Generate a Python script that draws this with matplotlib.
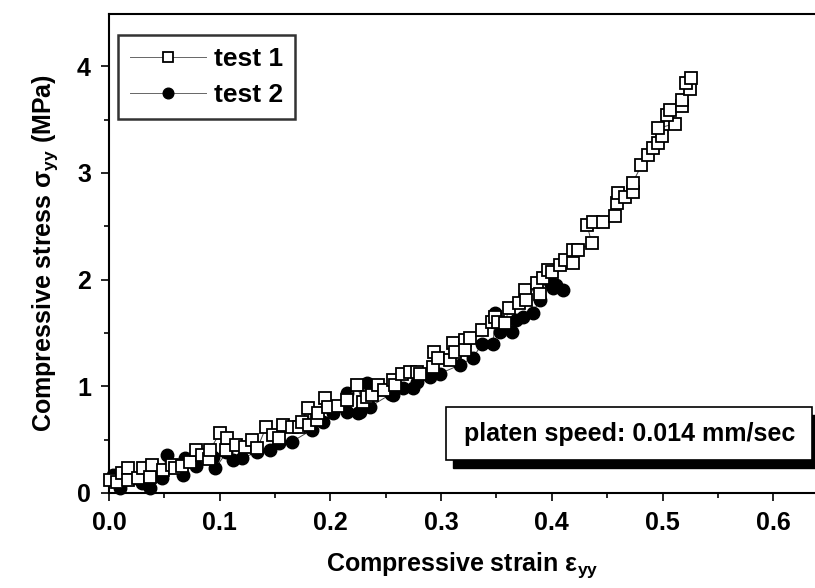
import matplotlib
matplotlib.use("Agg")
import matplotlib.pyplot as plt
from matplotlib.patches import Rectangle
from matplotlib.ticker import MultipleLocator, FormatStrFormatter

plt.rcParams['font.family'] = ['Liberation Sans', 'DejaVu Sans']
plt.rcParams['font.weight'] = 'bold'
plt.rcParams['axes.labelweight'] = 'bold'
plt.rcParams['mathtext.fontset'] = 'custom'
plt.rcParams['mathtext.rm'] = 'Liberation Sans:bold'
plt.rcParams['mathtext.it'] = 'Liberation Sans:bold'
plt.rcParams['mathtext.bf'] = 'Liberation Sans:bold'

# test 1 (open squares): strain, stress (MPa)
strain1 = [0.001, 0.007, 0.012, 0.017, 0.017, 0.026, 0.031, 0.037, 0.039, 0.049,
           0.057, 0.060, 0.066, 0.073, 0.079, 0.084, 0.090, 0.091, 0.100, 0.106,
           0.107, 0.115, 0.123, 0.129, 0.134, 0.142, 0.148, 0.154, 0.157, 0.165,
           0.172, 0.174, 0.180, 0.181, 0.188, 0.189, 0.195, 0.198, 0.207, 0.215,
           0.224, 0.229, 0.233, 0.238, 0.243, 0.248, 0.257, 0.258, 0.265, 0.272,
           0.278, 0.281, 0.293, 0.294, 0.297, 0.308, 0.311, 0.313, 0.322, 0.322,
           0.326, 0.337, 0.346, 0.349, 0.351, 0.358, 0.361, 0.370, 0.376, 0.377,
           0.387, 0.389, 0.392, 0.397, 0.400, 0.407, 0.412, 0.419, 0.419, 0.424,
           0.436, 0.432, 0.437, 0.446, 0.457, 0.459, 0.460, 0.466, 0.473, 0.473,
           0.481, 0.487, 0.491, 0.496, 0.500, 0.496, 0.511, 0.504, 0.507, 0.518,
           0.518, 0.525, 0.521, 0.526]
stress1 = [0.12, 0.10, 0.19, 0.23, 0.12, 0.14, 0.23, 0.15, 0.26, 0.22,
           0.26, 0.23, 0.25, 0.29, 0.40, 0.36, 0.32, 0.40, 0.56, 0.40,
           0.52, 0.45, 0.43, 0.50, 0.42, 0.62, 0.54, 0.52, 0.64, 0.62,
           0.62, 0.67, 0.80, 0.64, 0.68, 0.75, 0.89, 0.81, 0.82, 0.87,
           1.01, 0.85, 0.90, 0.92, 1.01, 0.97, 1.06, 1.01, 1.12, 1.13,
           1.13, 1.12, 1.18, 1.32, 1.27, 1.25, 1.41, 1.32, 1.43, 1.34,
           1.45, 1.53, 1.60, 1.65, 1.60, 1.59, 1.73, 1.78, 1.90, 1.81,
           1.97, 1.87, 2.02, 2.09, 2.07, 2.14, 2.18, 2.16, 2.28, 2.28,
           2.34, 2.51, 2.54, 2.54, 2.60, 2.72, 2.81, 2.77, 2.82, 2.91,
           3.07, 3.17, 3.23, 3.28, 3.35, 3.42, 3.46, 3.54, 3.59, 3.63,
           3.68, 3.79, 3.84, 3.89]

# test 2 (filled circles)
strain2 = [0.004, 0.010, 0.030, 0.037, 0.048, 0.052, 0.067, 0.069, 0.079, 0.094,
           0.096, 0.106, 0.112, 0.120, 0.134, 0.145, 0.154, 0.165, 0.183, 0.193,
           0.202, 0.215, 0.215, 0.225, 0.227, 0.233, 0.236, 0.255, 0.257, 0.266,
           0.275, 0.278, 0.290, 0.299, 0.317, 0.329, 0.337, 0.347, 0.349, 0.353,
           0.364, 0.368, 0.374, 0.383, 0.389, 0.398, 0.401, 0.404, 0.410]
stress2 = [0.17, 0.05, 0.09, 0.05, 0.14, 0.36, 0.17, 0.33, 0.25, 0.34,
           0.23, 0.38, 0.31, 0.33, 0.38, 0.40, 0.47, 0.48, 0.59, 0.67,
           0.75, 0.94, 0.76, 0.75, 0.76, 1.03, 0.81, 0.93, 0.92, 0.98,
           0.98, 1.04, 1.09, 1.12, 1.20, 1.27, 1.40, 1.40, 1.69, 1.51,
           1.51, 1.62, 1.65, 1.69, 1.81, 1.98, 1.92, 1.95, 1.90]

fig = plt.figure(figsize=(8.15, 5.88), dpi=100)
# axes run a bit past the right edge of the figure (cut off like the original)
ax = fig.add_axes([109/815, 95/588, (830 - 109)/815, (493 - 14)/588])

ax.plot(strain2, stress2, '-', color='#444444', lw=0.7, marker='o', ms=9,
        mfc='black', mec='black', mew=1.0, label='test 2', zorder=3, clip_on=False)
ax.plot(strain1, stress1, '-', color='#444444', lw=0.7, marker='s', ms=8.5,
        mfc='white', mec='black', mew=1.3, label='test 1', zorder=4, clip_on=False)

ax.set_xlim(0, (830 - 109) / 1107)
ax.set_ylim(0, 4.49)
ax.xaxis.set_major_locator(MultipleLocator(0.1))
ax.xaxis.set_minor_locator(MultipleLocator(0.05))
ax.yaxis.set_major_locator(MultipleLocator(1))
ax.yaxis.set_minor_locator(MultipleLocator(0.5))
ax.xaxis.set_major_formatter(FormatStrFormatter('%.1f'))
ax.tick_params(which='major', direction='out', length=6, width=1.2, labelsize=18, pad=7)
ax.tick_params(which='minor', direction='out', length=3.5, width=1.2)
ax.tick_params(top=False, right=False)
for s in ['left', 'bottom', 'top']:
    ax.spines[s].set_linewidth(1.5)
ax.spines['right'].set_visible(False)

ax.set_xlabel('Compressive strain ε$_{\\mathrm{yy}}$', fontsize=18, fontweight='bold')
ax.xaxis.set_label_coords((462 - 109) / (830 - 109), -0.12)
ax.set_ylabel('Compressive stress σ$_{\\mathrm{yy}}$ (MPa)', fontsize=18,
              fontweight='bold', labelpad=12)

handles, labels = ax.get_legend_handles_labels()
leg = ax.legend(handles[::-1], labels[::-1], loc='upper left',
                bbox_to_anchor=(118/815, 1 - 35/588), bbox_transform=fig.transFigure,
                borderaxespad=0, fontsize=19, numpoints=1, handlelength=2.9,
                handletextpad=0.3, labelspacing=0.45, borderpad=0.45,
                fancybox=False, frameon=True, markerscale=0.85)
leg.get_frame().set_edgecolor('black')
leg.get_frame().set_linewidth(1.8)
for line in leg.get_lines():
    line.set_color('#666666')
    line.set_markeredgecolor('black')

# annotation box with drop shadow
fig.patches.append(Rectangle((453/815, 1 - 468/588), (815 - 453)/815, 53/588,
                             transform=fig.transFigure, facecolor='black',
                             edgecolor='black', zorder=5))
fig.patches.append(Rectangle((446/815, 1 - 460/588), (812 - 446)/815, 53/588,
                             transform=fig.transFigure, facecolor='white',
                             edgecolor='black', lw=1.2, zorder=6))
fig.text(630/815, 1 - 434/588, 'platen speed: 0.014 mm/sec', fontsize=18,
         ha='center', va='center', zorder=7)

fig.savefig('out.png', dpi=100)
